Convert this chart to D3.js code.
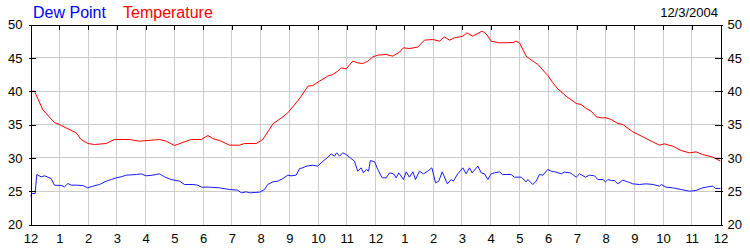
<!DOCTYPE html>
<html><head><meta charset="utf-8">
<script src="https://cdn.jsdelivr.net/npm/d3@7"></script>
<style>
body{margin:0;background:#fff;}
svg{display:block;font-family:"Liberation Sans",Arial,sans-serif;}
</style></head><body>
<svg id="c" width="750" height="250"></svg>
<script>
// hours since midnight, temperature (°F)
const tempHours = [0,0.14,0.43,0.83,1.01,1.11,1.59,1.76,1.99,2.23,2.63,2.92,3.44,3.79,4.49,4.72,5.01,5.42,5.59,5.94,6.17,6.34,6.63,6.92,7.27,7.44,7.85,8.08,8.31,8.43,8.78,8.95,9.24,9.42,9.65,9.82,10.05,10.34,10.51,10.69,10.81,10.98,11.21,11.38,11.56,11.73,11.91,12.08,12.37,12.60,12.83,12.97,13.18,13.47,13.70,13.99,14.23,14.40,14.57,14.75,15.04,15.18,15.38,15.71,15.85,16.02,16.31,16.78,16.89,17.01,17.24,17.47,17.65,17.99,18.17,18.34,18.63,18.98,19.15,19.33,19.50,19.68,19.85,20.02,20.20,20.43,20.60,20.95,21.30,21.59,21.88,22.05,22.34,22.63,22.92,23.15,23.38,23.73,24];
const tempValues = [40,40,37.2,35.3,35.0,34.75,33.75,32.75,32.15,32.0,32.15,32.75,32.75,32.5,32.75,32.5,31.85,32.5,32.75,32.75,33.35,32.9,32.5,31.9,31.9,32.15,32.15,32.75,34.25,35.1,36.15,36.75,38.25,39.25,40.75,40.85,41.5,42.25,42.5,43.0,43.5,43.35,44.5,44.25,44.15,44.5,45.15,45.4,45.5,45.25,45.85,46.5,46.4,46.6,47.65,47.75,47.5,48.15,47.65,48.0,48.25,48.75,48.25,49.0,48.6,47.5,47.25,47.3,47.5,47.25,45.25,44.5,44.0,42.35,41.25,40.35,39.25,38.15,38.0,37.4,37.0,36.15,36.0,36.0,35.75,35.15,35.0,33.9,33.15,32.5,31.9,32.1,31.75,31.1,30.75,30.9,30.5,30.1,29.5];

// hours since midnight, dew point (°F)
const dewHours = [0,0.05,0.16,0.22,0.37,0.49,0.72,0.83,1.07,1.18,1.30,1.42,1.59,1.82,1.99,2.17,2.40,2.63,2.81,2.98,3.15,3.33,3.68,3.85,4.02,4.25,4.49,4.66,4.89,5.18,5.36,5.65,5.82,5.94,6.23,6.57,6.92,7.21,7.33,7.50,7.62,7.97,8.14,8.25,8.43,8.60,8.78,8.95,9.07,9.24,9.36,9.47,9.59,9.82,9.99,10.11,10.29,10.46,10.57,10.65,10.75,10.86,10.98,11.15,11.27,11.38,11.50,11.58,11.68,11.76,11.82,11.97,12.08,12.23,12.37,12.49,12.63,12.72,12.81,12.97,13.07,13.18,13.30,13.39,13.53,13.67,13.82,13.96,14.09,14.20,14.32,14.50,14.63,14.71,14.86,15.04,15.15,15.27,15.36,15.56,15.68,15.79,15.91,16.02,16.14,16.31,16.42,16.72,16.83,17.07,17.24,17.30,17.47,17.59,17.70,17.82,17.99,18.11,18.28,18.46,18.57,18.77,18.86,18.98,19.10,19.30,19.44,19.62,19.73,19.91,20.00,20.08,20.20,20.31,20.43,20.60,20.77,20.95,21.18,21.41,21.65,21.88,21.94,22.11,22.34,22.63,22.92,23.15,23.38,23.56,23.73,23.83,24];
const dewValues = [24.25,24.65,24.65,27.5,27.15,27.3,26.9,25.9,25.85,25.65,26.15,25.9,25.9,25.85,25.5,25.75,26.0,26.5,26.75,27.0,27.15,27.4,27.5,27.6,27.3,27.4,27.6,27.15,26.75,26.5,26.0,26.0,25.9,25.6,25.6,25.5,25.25,25.15,24.75,24.9,24.75,24.85,25.25,26.0,26.4,26.5,26.9,27.4,27.3,27.4,28.4,28.5,28.75,28.9,28.75,29.25,29.9,30.6,30.25,30.75,30.25,30.75,30.5,29.9,29.5,28.0,28.5,27.75,28.25,28.0,29.6,29.4,28.25,27.0,27.0,27.75,27.6,27.0,27.75,26.75,27.9,27.1,27.9,26.75,28.0,27.6,28.0,28.5,26.25,26.5,27.9,26.1,26.75,26.5,27.6,28.5,27.6,28.5,27.75,28.75,27.75,27.6,26.75,27.6,27.75,27.9,27.5,27.5,27.1,27.1,26.4,26.75,26.0,26.5,27.5,27.4,28.25,28.0,27.85,27.6,27.85,27.75,27.5,27.1,27.6,27.1,27.4,27.3,26.75,26.75,26.4,26.75,26.6,26.6,26.1,26.65,26.4,26.1,26.0,26.1,26.0,25.75,26.0,25.6,25.5,25.25,25.0,25.1,25.5,25.65,25.75,25.4,25.4];

const hourTicks = d3.range(0, 25);
const hourLabels = ["12","1","2","3","4","5","6","7","8","9","10","11","12","1","2","3","4","5","6","7","8","9","10","11","12"];
const yTicks = [20,25,30,35,40,45,50];
const seriesNames = ["Dew Point","Temperature"];
const seriesColors = ["#0000ff","#ff0000"];
const dateLabel = "12/3/2004";

const svg = d3.select("#c");
const L = 30.5, R = 720.5, T = 24.5, B = 224.5;
const x = d3.scaleLinear().domain([0, 24]).range([L, R]);
const y = d3.scaleLinear().domain([20, 50]).range([B, T]);

// grid
const grid = svg.append("g").attr("shape-rendering","crispEdges").attr("stroke","#cccccc").attr("stroke-width",1);
grid.selectAll("line.v").data(hourTicks.slice(1,-1)).enter().append("line")
  .attr("x1", d=>x(d)).attr("x2", d=>x(d)).attr("y1", T).attr("y2", B);
grid.selectAll("line.h").data(yTicks.slice(1,-1)).enter().append("line")
  .attr("x1", L).attr("x2", R).attr("y1", d=>y(d)).attr("y2", d=>y(d));

// lines
const line = d3.line().x(d=>x(d[0])).y(d=>y(d[1]));
const dew = dewHours.map((h,i)=>[h, dewValues[i]]);
const temp = tempHours.map((h,i)=>[h, tempValues[i]]);
svg.append("path").datum(dew).attr("d", line).attr("fill","none").attr("stroke","#1a1aff").attr("stroke-width",1);
svg.append("path").datum(temp).attr("d", line).attr("fill","none").attr("stroke","#ff0000").attr("stroke-width",1);

// axes
function styleAxis(g){
  g.attr("shape-rendering","crispEdges");
  g.selectAll(".domain").attr("stroke","#000");
  g.selectAll(".tick line").attr("stroke","#000");
  g.selectAll("text").attr("fill","#000").style("font-size","13px").style("font-family","'Liberation Sans',Arial,sans-serif");
}
const yl = svg.append("g").attr("transform",`translate(${L},0)`)
  .call(d3.axisLeft(y).tickValues(yTicks).tickSizeInner(-5).tickSizeOuter(0).tickPadding(8));
yl.selectAll(".tick line").attr("x1",-2);
styleAxis(yl);
const yr = svg.append("g").attr("transform",`translate(${R},0)`)
  .call(d3.axisRight(y).tickValues(yTicks).tickSizeInner(-6).tickSizeOuter(0).tickPadding(7));
yr.selectAll(".tick line").attr("x1",2);
styleAxis(yr);
const xt = svg.append("g").attr("transform",`translate(0,${T})`)
  .call(d3.axisTop(x).tickValues(hourTicks).tickSizeInner(-5).tickSizeOuter(0).tickFormat(""));
styleAxis(xt);
const xb = svg.append("g").attr("transform",`translate(0,${B})`)
  .call(d3.axisBottom(x).tickValues(hourTicks).tickSize(0).tickPadding(9).tickFormat((d,i)=>hourLabels[i]));
styleAxis(xb);

// titles
const title = svg.append("g").style("font-size","16px");
title.append("text").attr("x",33).attr("y",18).attr("fill",seriesColors[0]).text(seriesNames[0]);
title.append("text").attr("x",123).attr("y",18).attr("fill",seriesColors[1]).text(seriesNames[1]);
svg.append("text").attr("x",718).attr("y",17).attr("text-anchor","end").style("font-size","13px").attr("fill","#000").text(dateLabel);
</script>
</body></html>
